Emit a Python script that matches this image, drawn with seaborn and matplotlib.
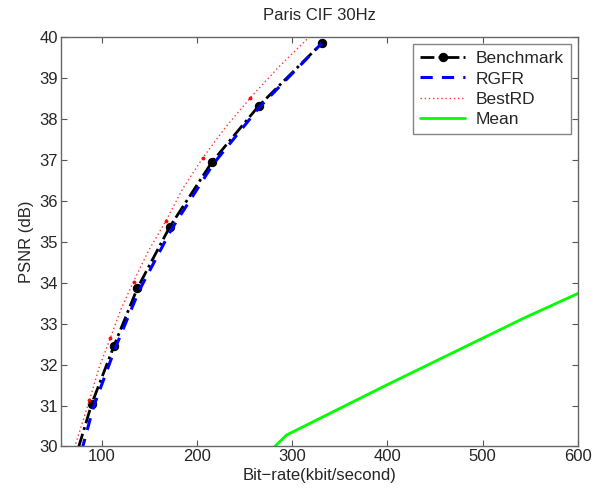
import matplotlib
matplotlib.use("Agg")
import matplotlib.pyplot as plt
import seaborn as sns

# values
bench_rate = [68, 89.5, 112.6, 137.2, 171.2, 215.7, 264.8, 331]
bench_psnr = [29.4, 31.05, 32.45, 33.86, 35.36, 36.95, 38.32, 39.85]

rgfr_rate = [72, 80, 91, 114, 139, 173, 217, 266, 331]
rgfr_psnr = [29.4, 30.0, 30.95, 32.4, 33.8, 35.3, 36.9, 38.3, 39.85]

best_rate = [62, 73, 87, 97, 108.8, 120, 133.3, 149, 167, 185, 206, 230, 256, 287, 320]
best_psnr = [29.4, 30.1, 31.13, 31.92, 32.64, 33.35, 34.03, 34.78, 35.5, 36.3, 37.05, 37.8, 38.52, 39.3, 40.05]
best_mark_rate = [87, 108.8, 133.3, 167, 206, 256]
best_mark_psnr = [31.13, 32.64, 34.03, 35.5, 37.05, 38.52]

mean_rate = [275, 294, 400.7, 542.7, 620]
mean_psnr = [29.85, 30.28, 31.52, 33.13, 33.95]

sns.set_style("white")
plt.rcParams['font.family'] = ['Liberation Sans', 'DejaVu Sans']

fig = plt.figure(figsize=(5.97, 4.95), dpi=100)
ax = fig.add_axes([0.102, 0.098, 0.866, 0.827])

sns.lineplot(x=bench_rate, y=bench_psnr, sort=False, ax=ax, color='black',
             linestyle=(0, (5, 1.5, 1, 1.5)), linewidth=2, marker='o', markersize=6,
             markeredgecolor='black', label='Benchmark')
sns.lineplot(x=rgfr_rate, y=rgfr_psnr, sort=False, ax=ax, color='#0000ff',
             linestyle=(0, (4, 3)), linewidth=2.2, label='RGFR')
sns.lineplot(x=best_rate, y=best_psnr, sort=False, ax=ax, color='#ff3333',
             linestyle=(0, (1, 2)), linewidth=1.0, label='BestRD')
sns.lineplot(x=best_mark_rate, y=best_mark_psnr, sort=False, ax=ax, color='#ff0000',
             linestyle='none', marker='.', markersize=4, markeredgecolor='#ff0000')
sns.lineplot(x=mean_rate, y=mean_psnr, sort=False, ax=ax, color='#00ff00',
             linewidth=2, label='Mean')

ax.set_xlim(57, 600)
ax.set_ylim(30, 40)
ax.set_xticks([100, 200, 300, 400, 500, 600])
ax.set_yticks(range(30, 41))
ax.tick_params(direction='in', length=4, top=True, right=True, labelsize=12,
               color='#555555', bottom=True, left=True, pad=2)
for s in ax.spines.values():
    s.set_color('#666666')
    s.set_linewidth(1)

ax.set_title('Paris CIF 30Hz', fontsize=12, pad=12)
ax.set_xlabel('Bit\u2212rate(kbit/second)', fontsize=12, labelpad=3)
ax.set_ylabel('PSNR (dB)', fontsize=12, labelpad=4)

handles, labels = ax.get_legend_handles_labels()
leg = ax.legend(handles, labels, loc='upper right', fontsize=12.5, frameon=True,
                fancybox=False, edgecolor='#666666', borderpad=0.4,
                handlelength=2.6, handletextpad=0.6, labelspacing=0.3,
                borderaxespad=0.4)
leg.get_frame().set_linewidth(1)

fig.savefig('out.png', dpi=100)
